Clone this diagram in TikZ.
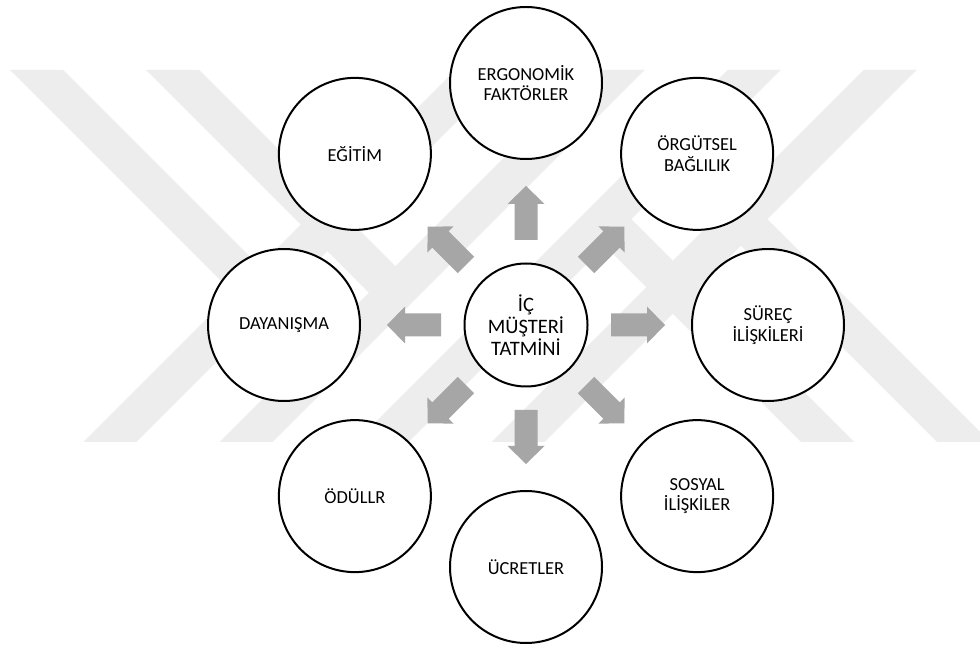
\documentclass[tikz,border=0pt]{standalone}
\usepackage{fontspec}
\setmainfont{Carlito}
\usetikzlibrary{calc}
\definecolor{markgray}{HTML}{EDEDED}
\definecolor{arrowgray}{HTML}{A6A6A6}
\tikzset{
  topic/.style={circle, draw=black, line width=2pt, fill=white,
    minimum size=152pt, inner sep=0pt, align=center,
    font=\fontsize{18.4}{20.7}\selectfont},
  hub/.style={topic, minimum size=123pt,
    font=\fontsize{20.5}{22}\selectfont},
  stripe/.style={fill=markgray, draw=none}
}
\begin{document}
\begin{tikzpicture}[x=1pt, y=1pt]
\useasboundingbox (0,0) rectangle (980,648);
\fill[white] (0,0) rectangle (980,648);

% faint diagonal stripes in the background (top edge y=70, bottom edge y=442, y downward)
\begin{scope}[shift={(0,648)}, yscale=-1]
  \clip (0,0) rectangle (980,648);
  % rising stripes, full height
  \foreach \a in {455.5,591.5,727.5,863.5}
    \fill[stripe] (\a,70) -- (\a+53,70) -- (\a-319,442) -- (\a-372,442) -- cycle;
  % falling stripes from the top edge, merging into the rising ones
  \fill[stripe] (10,70) -- (63,70) -- (285.75,292.75) -- (232.75,292.75) -- cycle;
  \fill[stripe] (146,70) -- (199,70) -- (421.75,292.75) -- (368.75,292.75) -- cycle;
  % falling stripes reaching the bottom edge
  \fill[stripe] (990,442) -- (937,442) -- (714.25,219.25) -- (767.25,219.25) -- cycle;
  \fill[stripe] (854,442) -- (801,442) -- (578.25,219.25) -- (631.25,219.25) -- cycle;
\end{scope}

% central topic
\node[hub] (c) at (526,323) {İÇ\\MÜŞTERİ\\TATMİNİ};

% surrounding topics
\node[topic] (ergo)   at ($(c)+(90:242)$)   {ERGONOMİK\\FAKTÖRLER};
\node[topic] (orgut)  at ($(c)+(45:242)$)   {ÖRGÜTSEL\\BAĞLILIK};
\node[topic] (surec)  at ($(c)+(0:242)$)    {SÜREÇ\\İLİŞKİLERİ};
\node[topic] (sosyal) at ($(c)+(-45:242)$)  {SOSYAL\\İLİŞKİLER};
\node[topic] (ucret)  at ($(c)+(-90:242)$)  {ÜCRETLER};
\node[topic] (odul)   at ($(c)+(-135:242)$) {ÖDÜLLR};
\node[topic] (dayan)  at ($(c)+(180:242)$)  {DAYANIŞMA};
\node[topic] (egitim) at ($(c)+(135:242)$)  {EĞİTİM};

% block arrows pointing from the hub toward each topic
\foreach \t in {ergo,orgut,surec,sosyal,ucret,odul,dayan,egitim}{
  \fill[arrowgray] let \p1=($(\t.center)-(c.center)$), \n1={atan2(\y1,\x1)} in
    [shift={(c.center)}, rotate=\n1]
    (85,-11.5) -- (121,-11.5) -- (121,-18.5) -- (139,0) -- (121,18.5)
    -- (121,11.5) -- (85,11.5) -- cycle;
}
\end{tikzpicture}
\end{document}
